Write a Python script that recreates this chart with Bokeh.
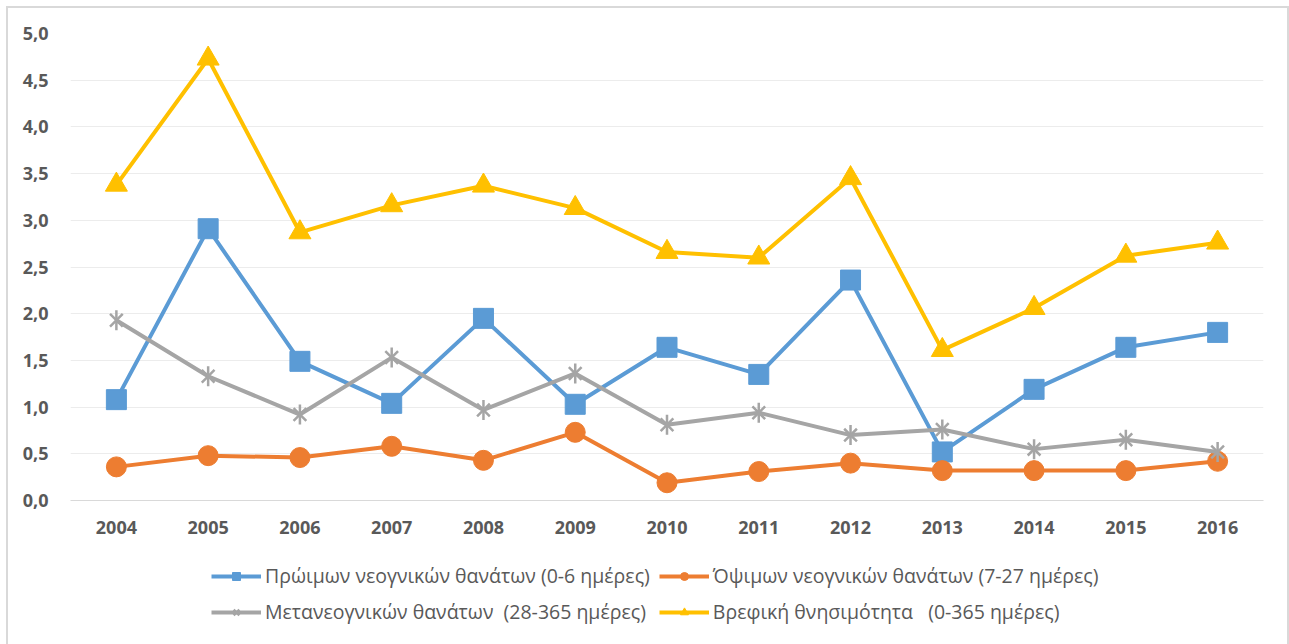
import math
from bokeh.plotting import figure
from bokeh.layouts import column
from bokeh.models import Range1d, FixedTicker, CustomJSTickFormatter, Legend, LegendItem
from bokeh.embed import file_html
from bokeh.resources import INLINE

years = ["2004", "2005", "2006", "2007", "2008", "2009", "2010",
         "2011", "2012", "2013", "2014", "2015", "2016"]
early_neonatal = [1.08, 2.91, 1.49, 1.04, 1.95, 1.03, 1.64, 1.35, 2.36, 0.52, 1.19, 1.64, 1.80]
late_neonatal = [0.36, 0.48, 0.46, 0.58, 0.43, 0.73, 0.19, 0.31, 0.40, 0.32, 0.32, 0.32, 0.42]
post_neonatal = [1.93, 1.33, 0.92, 1.53, 0.97, 1.36, 0.81, 0.94, 0.70, 0.76, 0.55, 0.65, 0.52]
infant = [3.38, 4.73, 2.87, 3.16, 3.37, 3.13, 2.66, 2.60, 3.45, 1.61, 2.06, 2.62, 2.76]
y_ticks = [0, 0.5, 1.0, 1.5, 2.0, 2.5, 3.0, 3.5, 4.0, 4.5, 5.0]

labels = [
    "Πρώιμων νεογνικών θανάτων (0-6 ημέρες)",
    "Όψιμων νεογνικών θανάτων (7-27 ημέρες)",
    "Μετανεογνικών θανάτων  (28-365 ημέρες)",
    "Βρεφική θνησιμότητα   (0-365 ημέρες)",
]

FONT = "Open Sans"
W = 1279

p = figure(x_range=years, y_range=Range1d(0, 5), width=W, height=532,
           output_backend="svg", toolbar_location=None,
           min_border_left=62, min_border_right=24, min_border_top=25,
           min_border_bottom=40)
p.outline_line_color = None
p.background_fill_color = "white"
p.border_fill_color = "white"

p.xgrid.grid_line_color = None
p.ygrid.grid_line_color = "#ececec"
p.ygrid.grid_line_width = 1

p.yaxis.ticker = FixedTicker(ticks=y_ticks)
p.yaxis.formatter = CustomJSTickFormatter(code="return tick.toFixed(1).replace('.', ',');")
p.yaxis.axis_line_color = None
p.yaxis.major_tick_line_color = None
p.yaxis.minor_tick_line_color = None
p.yaxis.major_label_standoff = 16

p.xaxis.axis_line_color = "#d9d9d9"
p.xaxis.axis_line_width = 1
p.xaxis.major_tick_line_color = None
p.xaxis.minor_tick_line_color = None
p.xaxis.major_label_standoff = 14

for ax in (p.xaxis, p.yaxis):
    ax.major_label_text_font = FONT
    ax.major_label_text_font_style = "bold"
    ax.major_label_text_font_size = "18px"
    ax.major_label_text_color = "#595959"

series = [
    (early_neonatal, "#5B9BD5", "square", 20),
    (late_neonatal, "#ED7D31", "circle", 20),
    (post_neonatal, "#A5A5A5", "star6", 20),
    (infant, "#FFC000", "triangle", 22),
]

# legend-only figure below the chart (its series lie outside its y range)
lf = figure(width=W, height=104, output_backend="svg", toolbar_location=None,
            x_range=p.x_range, y_range=Range1d(100, 101),
            x_axis_type=None, y_axis_type=None,
            min_border_left=62, min_border_right=24, min_border_top=0,
            min_border_bottom=0)
lf.outline_line_color = None
lf.grid.grid_line_color = None
lf.border_fill_color = "white"
lf.background_fill_color = "white"


def draw(fig, vals, color, marker, size):
    rs = [fig.line(years, vals, line_color=color, line_width=4)]
    if marker == "star6":
        rs.append(fig.scatter(years, vals, marker="x", size=size * 0.9,
                              line_color=color, line_width=2.5))
        rs.append(fig.scatter(years, vals, marker="dash", size=size,
                              angle=math.pi / 2, line_color=color,
                              line_width=2.5))
    else:
        rs.append(fig.scatter(years, vals, marker=marker, size=size,
                              fill_color=color, line_color=color))
    return rs


items = []
for (vals, color, marker, size), lab in zip(series, labels):
    draw(p, vals, color, marker, size)
    rs = draw(lf, vals, color, marker, size)
    items.append(LegendItem(label=lab, renderers=rs))

legend = Legend(items=items, orientation="horizontal", ncols=2,
                location=(141, 19))
legend.label_text_font = FONT
legend.label_text_font_size = "19.5px"
legend.label_text_color = "#595959"
legend.glyph_width = 50
legend.glyph_height = 20
legend.label_height = 20
legend.spacing = 9
legend.label_standoff = 4
legend.padding = 0
legend.margin = 0
legend.border_line_color = None
legend.background_fill_alpha = 0
lf.add_layout(legend, "center")

layout = column(p, lf, spacing=0,
                styles={"border-top": "2px solid #d9d9d9",
                        "border-left": "2px solid #d9d9d9",
                        "border-right": "2px solid #d9d9d9",
                        "margin-left": "6px", "margin-top": "6px",
                        "background-color": "white"})
open("out.html", "w").write(file_html(layout, INLINE))
